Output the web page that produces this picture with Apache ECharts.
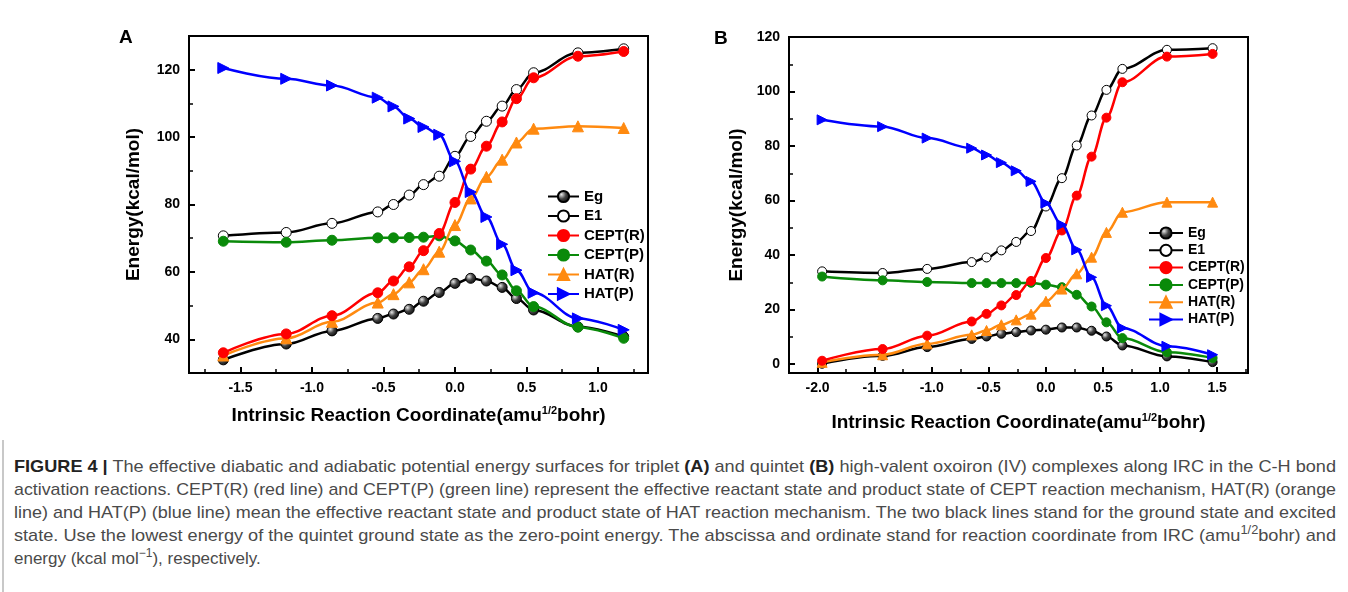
<!DOCTYPE html>
<html><head><meta charset="utf-8">
<script src="https://cdn.jsdelivr.net/npm/echarts@6/dist/echarts.min.js"></script>
<style>
body{margin:0;background:#fff;}
#chart{position:absolute;left:0;top:0;width:1348px;height:445px;}
#cap{position:absolute;left:14px;top:455px;width:1322px;font-family:'Liberation Sans',Arial,sans-serif;font-size:17px;color:#4a4a4a;line-height:23px;}
#cap div{white-space:nowrap;height:23px;}
#cap span.l{display:inline-block;transform-origin:0 50%;}
#cap b{color:#222;}
#cap sup{font-size:12px;line-height:0;}
#bar{position:absolute;left:2px;top:440px;width:2px;height:152px;background:#c8c8c8;}
</style></head><body>
<div id="chart"></div><div id="bar"></div>
<div id="cap">
<div><span class="l j"><b>FIGURE 4 |</b> The effective diabatic and adiabatic potential energy surfaces for triplet <b>(A)</b> and quintet <b>(B)</b> high-valent oxoiron (IV) complexes along IRC in the C-H bond</span></div>
<div><span class="l j">activation reactions. CEPT(R) (red line) and CEPT(P) (green line) represent the effective reactant state and product state of CEPT reaction mechanism, HAT(R) (orange</span></div>
<div><span class="l j">line) and HAT(P) (blue line) mean the effective reactant state and product state of HAT reaction mechanism. The two black lines stand for the ground state and excited</span></div>
<div><span class="l j">state. Use the lowest energy of the quintet ground state as the zero-point energy. The abscissa and ordinate stand for reaction coordinate from IRC (amu<sup>1/2</sup>bohr) and</span></div>
<div><span class="l">energy (kcal mol<sup>&minus;1</sup>), respectively.</span></div>
</div>
<script>
// ---- data ----
const seriesNames = ['Eg', 'E1', 'CEPT(R)', 'CEPT(P)', 'HAT(R)', 'HAT(P)'];

// Panel A (triplet)
const xA = [-1.62, -1.18, -0.86, -0.54, -0.43, -0.32, -0.22, -0.11, 0.0, 0.11, 0.22, 0.33, 0.43, 0.55, 0.86, 1.18];
const egA    = [33.9, 38.6, 42.5, 46.2, 47.5, 48.9, 51.3, 53.9, 56.6, 58.1, 57.3, 55.4, 52.1, 48.7, 43.7, 40.8];
const e1A    = [70.7, 71.7, 74.4, 77.8, 80.0, 82.8, 85.9, 88.4, 94.3, 100.2, 104.7, 109.2, 114.1, 119.1, 125.0, 126.2];
const ceptRA = [36.0, 41.6, 47.0, 53.8, 57.3, 61.5, 66.3, 71.4, 80.6, 90.5, 97.3, 104.5, 111.4, 117.6, 124.0, 125.4];
const ceptPA = [69.1, 68.8, 69.4, 70.1, 70.1, 70.2, 70.3, 70.7, 69.2, 66.5, 63.2, 59.1, 54.4, 49.7, 43.6, 40.3];
const hatRA  = [35.2, 40.3, 45.2, 50.9, 53.4, 56.9, 60.8, 66.0, 73.9, 81.8, 88.2, 93.3, 98.4, 102.5, 103.2, 102.7];
const hatPA  = [120.5, 117.3, 115.3, 111.7, 109.1, 105.5, 103.0, 100.7, 92.8, 83.7, 76.3, 68.2, 60.5, 53.8, 46.2, 42.8];

// Panel B (quintet)
const xB = [-1.96, -1.43, -1.04, -0.65, -0.52, -0.39, -0.26, -0.13, 0.0, 0.14, 0.27, 0.40, 0.53, 0.67, 1.06, 1.46];
const egB    = [0.1, 3.0, 6.2, 9.2, 10.1, 11.1, 11.7, 12.3, 12.6, 13.4, 13.4, 12.2, 10.1, 6.8, 2.8, 0.7];
const e1B    = [34.0, 33.4, 34.9, 37.4, 39.1, 41.7, 44.8, 48.8, 57.8, 68.2, 80.2, 91.2, 100.6, 108.3, 115.3, 115.9];
const ceptRB = [1.2, 5.5, 10.4, 15.6, 18.4, 21.5, 25.3, 30.5, 38.9, 49.0, 61.8, 76.1, 90.4, 103.4, 112.8, 113.8];
const ceptPB = [32.1, 30.7, 30.1, 29.7, 29.7, 29.7, 29.7, 29.8, 29.1, 28.2, 25.4, 21.1, 15.3, 9.5, 4.3, 2.2];
const hatRB  = [0.6, 3.4, 7.4, 10.7, 12.3, 14.4, 16.2, 18.3, 23.0, 27.5, 33.1, 39.2, 48.3, 55.7, 59.4, 59.4];
const hatPB  = [89.6, 87.1, 82.9, 79.2, 76.7, 73.9, 70.9, 67.0, 59.0, 51.1, 41.9, 31.8, 21.4, 13.2, 6.5, 3.4];

// ticks
const xMajorA = [-1.5, -1.0, -0.5, 0.0, 0.5, 1.0];
const xMinorA = [-1.75, -1.25, -0.75, -0.25, 0.25, 0.75, 1.25];
const yMajorA = [40, 60, 80, 100, 120];
const yMinorA = [50, 70, 90, 110];
const xMajorB = [-2.0, -1.5, -1.0, -0.5, 0.0, 0.5, 1.0, 1.5];
const xMinorB = [-2.25, -1.75, -1.25, -0.75, -0.25, 0.25, 0.75, 1.25, 1.75];
const yMajorB = [0, 20, 40, 60, 80, 100, 120];
const yMinorB = [10, 30, 50, 70, 90, 110];

// ---- styles ----
const FONT = 'Arial, "Liberation Sans", sans-serif';
const ball = {type:'radial', x:0.35, y:0.35, r:0.75, colorStops:[{offset:0,color:'#e8e8e8'},{offset:0.45,color:'#444'},{offset:1,color:'#000'}]};
const styleOf = {
  'Eg':      {line:'#000000', fill:ball, border:'#000', symbol:'circle', size:10, rot:0},
  'E1':      {line:'#000000', fill:'#ffffff', border:'#000', symbol:'circle', size:10, rot:0},
  'CEPT(R)': {line:'#ff0000', fill:'#ff0000', border:'#ff0000', symbol:'circle', size:10, rot:0},
  'CEPT(P)': {line:'#0a8a0a', fill:'#0a8a0a', border:'#0a8a0a', symbol:'circle', size:10, rot:0},
  'HAT(R)':  {line:'#ff8a10', fill:'#ff8a10', border:'#ff8a10', symbol:'triangle', size:11, rot:0},
  'HAT(P)':  {line:'#0000ff', fill:'#0000ff', border:'#0000ff', symbol:'triangle', size:11, rot:-90}
};
const zOrder = {'Eg':2,'E1':3,'CEPT(P)':4,'HAT(R)':5,'CEPT(R)':6,'HAT(P)':7};

function mk(name, xs, ys, ax, sz){
  const s = styleOf[name];
  return {
    type:'line', name, xAxisIndex:ax, yAxisIndex:ax,
    data: xs.map((x,i)=>[x, ys[i]]),
    smooth:0.35, smoothMonotone:'x',
    symbol:s.symbol, symbolSize:sz || s.size, symbolRotate:s.rot,
    lineStyle:{color:s.line, width:2.5},
    itemStyle:{color:s.fill, borderColor:s.border, borderWidth:1},
    z: zOrder[name], silent:true, animation:false
  };
}

const axisLineS = {show:true, onZero:false, lineStyle:{color:'#000', width:2}};
const labelS = {fontSize:14, fontWeight:'bold', color:'#000', fontFamily:FONT};
const nameS = {fontSize:19, fontWeight:'bold', color:'#000', fontFamily:FONT,
  rich:{sup:{fontSize:11, fontWeight:'bold', color:'#000', fontFamily:FONT, padding:[0,0,10,0]}}};
const xName = 'Intrinsic Reaction Coordinate(amu{sup|1/2}bohr)';

function xMain(grid, min, max, major, gap){
  return {type:'value', gridIndex:grid, min, max, position:'bottom',
    axisLine:axisLineS,
    axisTick:{show:true, inside:true, length:6, lineStyle:{color:'#000', width:2}, customValues:major},
    axisLabel:Object.assign({customValues:major, margin:8, formatter:v=>v.toFixed(1)}, labelS),
    splitLine:{show:false},
    name:xName, nameLocation:'middle', nameGap:gap, nameTextStyle:nameS};
}
function xMinor(grid, min, max, minor){
  return {type:'value', gridIndex:grid, min, max, position:'bottom',
    axisLine:{show:false, onZero:false}, axisLabel:{show:false}, splitLine:{show:false},
    axisTick:{show:true, inside:true, length:4, lineStyle:{color:'#000', width:1.5}, customValues:minor}};
}
function yMain(grid, min, max, major, gap){
  return {type:'value', gridIndex:grid, min, max, position:'left',
    axisLine:axisLineS,
    axisTick:{show:true, inside:true, length:6, lineStyle:{color:'#000', width:2}, customValues:major},
    axisLabel:Object.assign({customValues:major, margin:9}, labelS),
    splitLine:{show:false},
    name:'Energy(kcal/mol)', nameLocation:'middle', nameGap:gap, nameRotate:90,
    nameTextStyle:{fontSize:19, fontWeight:'bold', color:'#000', fontFamily:FONT}};
}
function yMinor(grid, min, max, minor){
  return {type:'value', gridIndex:grid, min, max, position:'left',
    axisLine:{show:false, onZero:false}, axisLabel:{show:false}, splitLine:{show:false},
    axisTick:{show:true, inside:true, length:4, lineStyle:{color:'#000', width:1.5}, customValues:minor}};
}

const series = [];
const setsA = {'Eg':egA,'E1':e1A,'CEPT(R)':ceptRA,'CEPT(P)':ceptPA,'HAT(R)':hatRA,'HAT(P)':hatPA};
const setsB = {'Eg':egB,'E1':e1B,'CEPT(R)':ceptRB,'CEPT(P)':ceptPB,'HAT(R)':hatRB,'HAT(P)':hatPB};
seriesNames.forEach(n=>series.push(mk(n, xA, setsA[n], 0)));
seriesNames.forEach(n=>series.push(mk(n, xB, setsB[n], 2, styleOf[n].size-1)));

const legendBase = {data:seriesNames, orient:'vertical', selectedMode:false, itemHeight:14,
  textStyle:{fontWeight:'bold', color:'#000', fontFamily:FONT}};

const option = {
  animation:false,
  backgroundColor:'#fff',
  grid:[
    {left:189, top:36, width:459, height:337, show:true, borderColor:'#000', borderWidth:2},
    {left:789, top:37, width:459, height:336, show:true, borderColor:'#000', borderWidth:2}
  ],
  xAxis:[
    xMain(0, -1.86, 1.35, xMajorA, 32), xMinor(0, -1.86, 1.35, xMinorA),
    xMain(1, -2.25, 1.77, xMajorB, 39), xMinor(1, -2.25, 1.77, xMinorB)
  ],
  yAxis:[
    yMain(0, 30, 130, yMajorA, 46), yMinor(0, 30, 130, yMinorA),
    yMain(1, -3.3, 120, yMajorB, 43), yMinor(1, -3.3, 120, yMinorB)
  ],
  legend:[
    Object.assign({}, legendBase, {left:542, top:184, itemWidth:31, itemGap:4.5, textStyle:Object.assign({}, legendBase.textStyle, {fontSize:15})}),
    Object.assign({}, legendBase, {left:1143, top:221, itemWidth:34, itemGap:3.3, textStyle:Object.assign({}, legendBase.textStyle, {fontSize:14})})
  ],
  graphic:[
    {type:'text', left:119, top:28, style:{text:'A', font:'bold 19px '+FONT, fill:'#000'}},
    {type:'text', left:714, top:29, style:{text:'B', font:'bold 19px '+FONT, fill:'#000'}}
  ],
  series
};
const chart = echarts.init(document.getElementById('chart'), null, {renderer:'canvas'});
chart.setOption(option);

// condense caption lines horizontally so full lines span the column width
const spans = Array.from(document.querySelectorAll('#cap span.l'));
let scale = 1;
spans.filter(s=>s.classList.contains('j')).forEach(s=>{
  const w = s.getBoundingClientRect().width;
  s.style.transform = 'scaleX(' + (1322 / w) + ')';
  scale = Math.min(scale, 1322 / w);
});
spans.filter(s=>!s.classList.contains('j')).forEach(s=>{ s.style.transform = 'scaleX(' + scale + ')'; });
</script>
</body></html>
